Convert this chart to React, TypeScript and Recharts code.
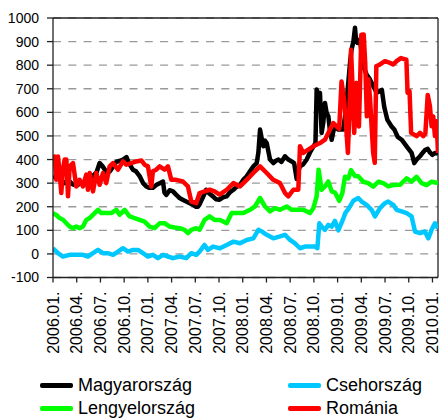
import { LineChart, Line, XAxis, YAxis, CartesianGrid, ReferenceLine } from 'recharts';

// month offset from 2006.01 -> spread (bp)
const hungary: [number, number][] = [
  [0, 330], [0.5, 320], [1, 315], [1.5, 300], [2, 310], [2.5, 295], [3, 290], [3.5, 300], [4, 305],
  [4.5, 320], [5, 330], [5.5, 345], [5.9, 385], [6.3, 370], [6.8, 345], [7.2, 350], [7.6, 370],
  [8, 390], [8.5, 395], [8.85, 400], [9.3, 410], [9.6, 385], [10.1, 357], [10.5, 350], [10.96, 330],
  [11.4, 300], [11.8, 286], [12.2, 280], [12.64, 280], [13.1, 293], [13.5, 300], [13.91, 307],
  [14.1, 260], [14.33, 250], [14.75, 270], [15.17, 265], [15.6, 250], [16.01, 237], [16.4, 230],
  [16.86, 222], [17.3, 215], [17.7, 208], [18.1, 200], [18.33, 200], [18.54, 210], [18.96, 240],
  [19.38, 272], [19.8, 255], [20.23, 244], [20.6, 232], [21.07, 230], [21.5, 240], [21.97, 244],
  [22.4, 262], [22.82, 272], [23.24, 285], [23.66, 293], [24.08, 315], [24.5, 329], [24.92, 350],
  [25.34, 371], [25.77, 385], [25.98, 430], [26.19, 527], [26.4, 490], [26.61, 456], [26.82, 480],
  [27.03, 470], [27.45, 400], [27.87, 385], [28.2, 395], [28.51, 400], [28.9, 390], [29.35, 414],
  [29.77, 400], [30.19, 392], [30.5, 385], [30.82, 318], [31.03, 350], [31.24, 371], [31.66, 380],
  [32.09, 400], [32.51, 430], [32.93, 455], [33.2, 470], [33.35, 697], [33.55, 660], [33.77, 683],
  [33.98, 513], [34.2, 560], [34.4, 640], [34.6, 600], [34.83, 583], [35.04, 520], [35.25, 484],
  [35.46, 520], [35.67, 541], [36.09, 527], [36.72, 527], [37.0, 600], [37.35, 725], [37.6, 820],
  [37.77, 867], [38.0, 900], [38.2, 959], [38.35, 900], [38.49, 895], [38.83, 909], [39.04, 850],
  [39.25, 796], [39.67, 760], [40.09, 740], [40.3, 725], [40.94, 683], [41.36, 690], [41.6, 695],
  [41.9, 623], [42.3, 568], [42.83, 540], [43.2, 526], [43.6, 496], [44.1, 484], [44.8, 453],
  [45.36, 428], [45.7, 385], [46.0, 400], [46.42, 414], [46.8, 430], [47.05, 440], [47.4, 445],
  [47.68, 430], [48.0, 420], [48.31, 428], [48.7, 425],
];

const czech: [number, number][] = [
  [0, 24], [0.63, 3], [1.26, -11], [2.11, -4], [2.95, -4], [3.79, -4], [4.42, -11], [5.06, 3],
  [5.69, 17], [6.32, 3], [6.95, 3], [7.59, -4], [8.22, 10], [8.85, 24], [9.48, 10], [10.11, 17],
  [10.75, 17], [11.38, 3], [12.01, -11], [12.64, -4], [13.27, -18], [13.91, -4], [14.54, -11],
  [15.17, -18], [16.01, -11], [16.86, -18], [17.49, 3], [18.12, -4], [18.54, 10], [19.17, 38],
  [19.6, 17], [20.23, 31], [21.13, 24], [21.97, 38], [22.82, 52], [23.66, 45], [24.5, 59],
  [25.34, 66], [25.98, 102], [26.4, 95], [27.03, 81], [27.87, 66], [28.72, 74], [29.35, 81],
  [29.98, 59], [30.61, 45], [31.24, 24], [31.88, 31], [32.51, 31], [33.14, 31], [33.44, 24],
  [33.69, 130], [33.98, 116], [34.4, 102], [34.83, 123], [35.25, 116], [35.67, 140], [36.09, 100],
  [36.72, 150], [37.0, 175], [37.35, 190], [37.99, 225], [38.62, 237], [39.04, 222], [39.67, 208],
  [40.3, 187], [40.73, 159], [41.36, 194], [41.99, 215], [42.41, 222], [43.04, 208], [43.46, 187],
  [44.1, 180], [44.73, 173], [45.36, 159], [45.79, 95], [46.42, 88], [47.05, 95], [47.47, 66],
  [47.89, 102], [48.31, 130], [48.7, 109],
];

const poland: [number, number][] = [
  [0, 173], [0.42, 165], [0.84, 152], [1.26, 145], [1.69, 130], [2.11, 116], [2.53, 109],
  [2.95, 116], [3.37, 109], [3.79, 116], [4.21, 144], [4.64, 152], [5.27, 173], [5.69, 187],
  [6.11, 173], [6.74, 173], [7.37, 173], [8.01, 187], [8.43, 166], [9.06, 187], [9.69, 159],
  [10.32, 152], [10.96, 144], [11.59, 137], [12.22, 116], [12.85, 109], [13.49, 130], [14.12, 130],
  [14.75, 116], [15.38, 112], [16.01, 109], [16.65, 102], [17.07, 88], [17.49, 102], [18.12, 109],
  [18.54, 102], [19.17, 144], [19.81, 159], [20.44, 144], [21.13, 144], [21.97, 130], [22.6, 173],
  [23.24, 173], [24.08, 173], [24.92, 187], [25.55, 201], [26.19, 237], [26.82, 201], [27.45, 180],
  [28.08, 194], [28.72, 187], [29.56, 201], [30.19, 187], [30.82, 187], [31.66, 187], [32.51, 173],
  [32.93, 194], [33.35, 244], [33.6, 357], [33.98, 272], [34.4, 286], [34.83, 307], [35.25, 265],
  [35.67, 260], [36.2, 225], [36.6, 258], [36.93, 327], [37.35, 320], [37.7, 355], [38.2, 330],
  [38.62, 329], [39.25, 306], [39.88, 300], [40.52, 285], [41.15, 306], [41.78, 300], [42.41, 286],
  [43.04, 292], [43.89, 293], [44.73, 320], [45.36, 307], [46.0, 327], [46.63, 300], [47.26, 292],
  [47.89, 306], [48.7, 300],
];

const romania: [number, number][] = [
  [0, 385], [0.21, 413], [0.42, 314], [0.63, 413], [0.84, 343], [1.05, 258], [1.26, 357],
  [1.47, 400], [1.69, 400], [1.9, 244], [2.11, 371], [2.53, 385], [2.95, 286], [3.37, 314],
  [3.79, 286], [4.21, 336], [4.42, 272], [4.64, 343], [5.06, 265], [5.48, 343], [5.9, 293],
  [6.32, 343], [6.74, 300], [7.16, 371], [7.59, 385], [8.22, 357], [8.85, 392], [9.27, 378],
  [9.9, 385], [10.54, 392], [11.17, 396], [11.59, 378], [12.01, 371], [12.43, 286], [12.64, 350],
  [13.06, 357], [13.49, 371], [14.12, 357], [14.54, 371], [14.96, 314], [15.59, 314], [16.43, 307],
  [17.07, 286], [17.49, 222], [18.12, 215], [18.54, 258], [19.17, 265], [19.81, 272], [20.44, 265],
  [21.07, 251], [21.97, 272], [22.82, 300], [23.66, 286], [24.5, 314], [25.34, 343], [26.19, 371],
  [27.03, 343], [27.87, 314], [28.72, 300], [29.35, 258], [29.77, 244], [30.4, 272], [31.03, 272],
  [31.24, 456], [31.66, 428], [32.3, 442], [32.93, 456], [33.77, 470], [34.4, 484], [35.04, 527],
  [35.46, 555], [35.88, 541], [36.2, 530], [36.5, 731], [36.8, 660], [37.0, 580], [37.3, 428],
  [37.5, 600], [37.7, 865], [37.9, 700], [38.1, 513], [38.4, 725], [38.7, 540], [39.0, 929],
  [39.3, 930], [39.5, 804], [39.7, 583], [39.9, 740], [40.1, 660], [40.3, 541], [40.5, 428],
  [40.7, 386], [40.9, 795], [41.36, 803], [41.99, 817], [42.62, 810], [43.04, 803], [43.46, 817],
  [44.0, 830], [44.7, 823], [44.85, 683], [45.1, 690], [45.3, 513], [46.0, 499], [46.42, 513],
  [46.84, 499], [47.1, 510], [47.4, 674], [47.68, 626], [47.89, 541], [48.1, 583], [48.31, 500],
  [48.52, 562], [48.7, 428],
];

const xTicks = [0, 3, 6, 9, 12, 15, 18, 21, 24, 27, 30, 33, 36, 39, 42, 45, 48];
const xLabels = [
  '2006.01.', '2006.04.', '2006.07.', '2006.10.', '2007.01.', '2007.04.', '2007.07.', '2007.10.',
  '2008.01.', '2008.04.', '2008.07.', '2008.10.', '2009.01.', '2009.04.', '2009.07.', '2009.10.',
  '2010.01.',
];
const yTicks = [-100, 0, 100, 200, 300, 400, 500, 600, 700, 800, 900, 1000];

const series = [
  { name: 'Magyarország', data: hungary, color: '#000000' },
  { name: 'Csehország', data: czech, color: '#00c8ff' },
  { name: 'Lengyelország', data: poland, color: '#00ff00' },
  { name: 'Románia', data: romania, color: '#ff0000' },
];

const X_MAX = 48.7;
const FONT = '"Liberation Sans", Arial, sans-serif';

function XTick({ x, y, payload }: any) {
  const i = xTicks.indexOf(payload.value);
  return (
    <text
      transform={`translate(${x + 5.5},${y + 7}) rotate(-90)`}
      textAnchor="end"
      fontSize={16}
      fontFamily={FONT}
      fill="#000"
    >
      {xLabels[i]}
    </text>
  );
}

function LegendItem({ name, color, left, top }: { name: string; color: string; left: number; top: number }) {
  return (
    <div style={{ position: 'absolute', left, top, display: 'flex', alignItems: 'center' }}>
      <div style={{ width: 33, height: 5, background: color, borderRadius: 2, marginRight: 5 }} />
      <span style={{ fontSize: 18, fontFamily: FONT, color: '#000', lineHeight: '20px' }}>{name}</span>
    </div>
  );
}

export default function App() {
  return (
    <div style={{ position: 'absolute', left: 0, top: 0, width: 441, height: 420, background: '#fff' }}>
      <LineChart width={441} height={360} margin={{ top: 18, right: 3, bottom: 0, left: 0 }}>
        <CartesianGrid vertical={false} stroke="#9a9a9a" strokeWidth={1.3} strokeDasharray="8 7.3" />
        <XAxis
          type="number"
          dataKey="t"
          domain={[0, X_MAX]}
          ticks={xTicks}
          interval={0}
          tick={<XTick />}
          tickSize={5}
          height={82.5}
          axisLine={{ stroke: '#222', strokeWidth: 1.3 }}
          tickLine={{ stroke: '#222', strokeWidth: 1.3 }}
          allowDataOverflow
        />
        <YAxis
          type="number"
          domain={[-100, 1000]}
          ticks={yTicks}
          interval={0}
          width={53}
          tickSize={6}
          tickMargin={8}
          tick={{ fontSize: 14, fill: '#000', fontFamily: FONT }}
          axisLine={{ stroke: '#222', strokeWidth: 1.3 }}
          tickLine={{ stroke: '#222', strokeWidth: 1.3 }}
        />
        <ReferenceLine y={1000} stroke="#222" strokeWidth={1.3} />
        <ReferenceLine x={X_MAX} stroke="#222" strokeWidth={1.3} />
        {series.map((s) => (
          <Line
            key={s.name}
            data={s.data.map(([t, v]) => ({ t, v }))}
            dataKey="v"
            name={s.name}
            type="linear"
            stroke={s.color}
            strokeWidth={4.5}
            strokeLinejoin="round"
            dot={false}
            isAnimationActive={false}
          />
        ))}
      </LineChart>
      <LegendItem name="Magyarország" color="#000000" left={40} top={375} />
      <LegendItem name="Csehország" color="#00c8ff" left={288} top={375} />
      <LegendItem name="Lengyelország" color="#00ff00" left={40} top={398} />
      <LegendItem name="Románia" color="#ff0000" left={288} top={398} />
    </div>
  );
}
